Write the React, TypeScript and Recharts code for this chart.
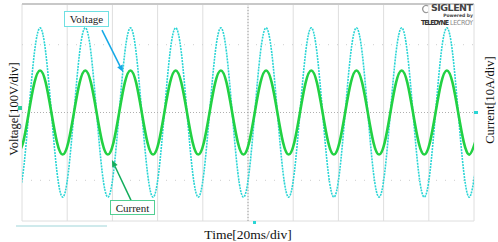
import React from 'react';
import {
  ComposedChart,
  Line,
  XAxis,
  YAxis,
  CartesianGrid,
  ReferenceLine,
} from 'recharts';

// sample times in ms (2.5 ms apart, a little past both edges so the curve is clipped)
const times = [
  -2, 0.5, 3, 5.5, 8, 10.5, 13, 15.5, 18, 20.5, 23, 25.5, 28, 30.5, 33, 35.5,
  38, 40.5, 43, 45.5, 48, 50.5, 53, 55.5, 58, 60.5, 63, 65.5, 68, 70.5, 73, 75.5,
  78, 80.5, 83, 85.5, 88, 90.5, 93, 95.5, 98, 100.5, 103, 105.5, 108, 110.5, 113, 115.5,
  118, 120.5, 123, 125.5, 128, 130.5, 133, 135.5, 138, 140.5, 143, 145.5, 148, 150.5,
  153, 155.5, 158, 160.5, 163, 165.5, 168, 170.5, 173, 175.5, 178, 180.5, 183, 185.5,
  188, 190.5, 193, 195.5, 198, 200.5,
];

// volts (100 V/div)
const voltage = [
  -312, -221, 0, 221, 312, 221, 0, -221,
  -312, -221, 0, 221, 312, 221, 0, -221,
  -312, -221, 0, 221, 312, 221, 0, -221,
  -312, -221, 0, 221, 312, 221, 0, -221,
  -312, -221, 0, 221, 312, 221, 0, -221,
  -312, -221, 0, 221, 312, 221, 0, -221,
  -312, -221, 0, 221, 312, 221, 0, -221,
  -312, -221, 0, 221, 312, 221, 0, -221,
  -312, -221, 0, 221, 312, 221, 0, -221,
  -312, -221, 0, 221, 312, 221, 0, -221,
  -312, -221,
];

// amps (10 A/div)
const current = [
  -15.5, -11, 0, 11, 15.5, 11, 0, -11,
  -15.5, -11, 0, 11, 15.5, 11, 0, -11,
  -15.5, -11, 0, 11, 15.5, 11, 0, -11,
  -15.5, -11, 0, 11, 15.5, 11, 0, -11,
  -15.5, -11, 0, 11, 15.5, 11, 0, -11,
  -15.5, -11, 0, 11, 15.5, 11, 0, -11,
  -15.5, -11, 0, 11, 15.5, 11, 0, -11,
  -15.5, -11, 0, 11, 15.5, 11, 0, -11,
  -15.5, -11, 0, 11, 15.5, 11, 0, -11,
  -15.5, -11, 0, 11, 15.5, 11, 0, -11,
  -15.5, -11,
];

const timeTicks = [0, 20, 40, 60, 80, 100, 120, 140, 160, 180, 200];
const voltTicks = [-400, -300, -200, -100, 0, 100, 200, 300, 400];

const data = times.map((t, i) => ({ t, v: voltage[i], i: current[i] }));

const CYAN = '#2ad5d5';
const GREEN = '#22d143';
const SERIF = '"Liberation Serif", "Times New Roman", serif';

// line with an arrow head at the second point
const arrowShape = (color: string) => (props: any) => {
  const { x1, y1, x2, y2 } = props;
  if (x1 == null || x2 == null) return <g />;
  const a = Math.atan2(y2 - y1, x2 - x1);
  const len = 7;
  const w = 3;
  const bx = x2 - len * Math.cos(a);
  const by = y2 - len * Math.sin(a);
  const pts = [
    `${x2},${y2}`,
    `${bx + w * Math.sin(a)},${by - w * Math.cos(a)}`,
    `${bx - w * Math.sin(a)},${by + w * Math.cos(a)}`,
  ].join(' ');
  return (
    <g>
      <line x1={x1} y1={y1} x2={bx} y2={by} stroke={color} strokeWidth={1.5} />
      <polygon points={pts} fill={color} />
    </g>
  );
};

const App: React.FC = () => {
  return (
    <div style={{ position: 'absolute', left: 0, top: 0, width: 498, height: 242, background: '#fff' }}>
      <ComposedChart
        width={498}
        height={242}
        data={data}
        margin={{ top: 4, right: 24, left: 22, bottom: 21 }}
      >
        <CartesianGrid stroke="#dedede" strokeWidth={1} />
        <XAxis
          dataKey="t"
          type="number"
          domain={[0, 200]}
          ticks={timeTicks}
          allowDataOverflow
          hide
        />
        <YAxis yAxisId="v" domain={[-400, 400]} ticks={voltTicks} allowDataOverflow hide />
        <YAxis yAxisId="i" orientation="right" domain={[-40, 40]} allowDataOverflow hide />

        <ReferenceLine yAxisId="v" y={250} stroke="#cfcfcf" strokeDasharray="1 8" />
        <ReferenceLine yAxisId="v" y={-250} stroke="#cfcfcf" strokeDasharray="1 8" />
        <ReferenceLine yAxisId="v" y={0} stroke="#b0b0b0" strokeDasharray="1 2" />
        <ReferenceLine yAxisId="v" x={100} stroke="#a0a0a0" strokeDasharray="1 2" />

        <Line
          yAxisId="v"
          type="natural"
          dataKey="v"
          stroke={CYAN}
          strokeWidth={1.6}
          strokeDasharray="2 1"
          dot={false}
          isAnimationActive={false}
        />
        <Line
          yAxisId="i"
          type="natural"
          dataKey="i"
          stroke={GREEN}
          strokeWidth={2.6}
          dot={false}
          isAnimationActive={false}
        />

        <ReferenceLine
          yAxisId="v"
          segment={[{ x: 35.4, y: 304 }, { x: 44.7, y: 149 }]}
          shape={arrowShape('#16a9e6')}
        />
        <ReferenceLine
          yAxisId="v"
          segment={[{ x: 48.2, y: -323 }, { x: 39.8, y: -175 }]}
          shape={arrowShape('#12ad5c')}
        />
      </ComposedChart>

      <svg
        width={498}
        height={242}
        style={{ position: 'absolute', left: 0, top: 0, pointerEvents: 'none' }}
      >
        {/* plot frame */}
        <line x1={22} y1={4} x2={474} y2={4} stroke="#c8c8c8" strokeWidth={2} />

        {/* annotation boxes */}
        <rect x={64.5} y={11.5} width={44} height={15} fill="#fff" stroke="#6fe0e2" strokeWidth={1} />
        <text x={86.5} y={23} textAnchor="middle" fontFamily={SERIF} fontSize={11} fill="#222">
          Voltage
        </text>
        <rect x={110.5} y={200.5} width={44} height={14} fill="#fff" stroke="#52cf93" strokeWidth={1} />
        <text x={132.5} y={211.5} textAnchor="middle" fontFamily={SERIF} fontSize={11} fill="#222">
          Current
        </text>

        {/* axis titles */}
        <text
          transform="translate(18,109) rotate(-90)"
          textAnchor="middle"
          fontFamily={SERIF}
          fontSize={12.5}
          fill="#111"
        >
          Voltage[100V/div]
        </text>
        <text
          transform="translate(494,100) rotate(-90)"
          textAnchor="middle"
          fontFamily={SERIF}
          fontSize={12.5}
          fill="#111"
        >
          Current[10A/div]
        </text>
        <text x={248} y={239} textAnchor="middle" fontFamily={SERIF} fontSize={13.5} fill="#111">
          Time[20ms/div]
        </text>

        {/* scope markers */}
        <rect x={18} y={106} width={4} height={4} fill="#2ccfa0" />
        <rect x={474} y={111} width={4} height={3} fill={CYAN} />
        <rect x={253} y={221} width={3} height={3} fill={CYAN} />
        <line x1={16} y1={226} x2={107} y2={226} stroke="#bfe3e6" strokeWidth={1.5} />

        {/* logo */}
        <g fill="none" stroke="#9a9a9a" strokeWidth={1.2}>
          <path d="M 428 6 A 3.5 3.5 0 1 0 428 12" />
        </g>
        <text x={473} y={11} textAnchor="end" fontFamily="DejaVu Sans, sans-serif" fontWeight="bold" fontSize={9.5} fill="#444" textLength={42}>
          SIGLENT
        </text>
        <text x={473} y={17} textAnchor="end" fontFamily="DejaVu Sans, sans-serif" fontWeight="bold" fontSize={4.5} fill="#444">
          Powered by
        </text>
        <text x={421} y={24.5} fontFamily="DejaVu Sans Condensed, DejaVu Sans, sans-serif" fontWeight="bold" fontSize={7} fill="#333" textLength={28}>
          TELEDYNE
        </text>
        <text x={450} y={24.5} fontFamily="DejaVu Sans Condensed, DejaVu Sans, sans-serif" fontSize={7} fill="#888" textLength={23}>
          LECROY
        </text>
      </svg>
    </div>
  );
};

export default App;
